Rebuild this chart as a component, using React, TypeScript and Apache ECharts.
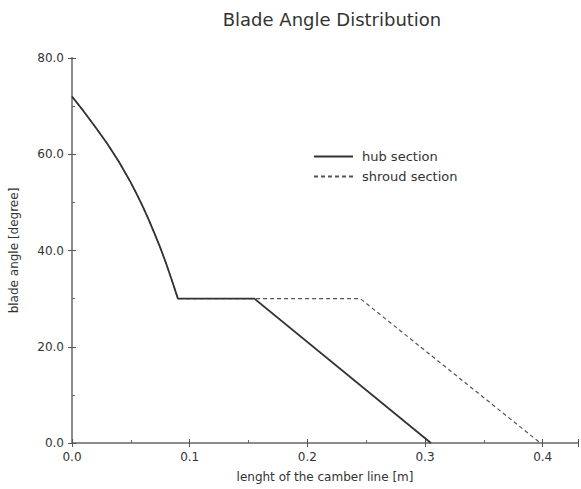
import React, { useEffect, useRef } from "react";
import * as echarts from "echarts";

const title = "Blade Angle Distribution";
const xName = "lenght of the camber line [m]";
const yName = "blade angle [degree]";
const seriesNames = ["hub section", "shroud section"];

const hubX = [0, 0.01, 0.02, 0.03, 0.04, 0.05, 0.055, 0.06, 0.065, 0.07, 0.075, 0.08, 0.085, 0.09, 0.155, 0.305];
const hubY = [72, 68.9, 65.6, 62.2, 58.4, 54.1, 51.7, 49.2, 46.5, 43.6, 40.6, 37.3, 33.7, 30, 30, 0];

const shroudX = [0, 0.01, 0.02, 0.03, 0.04, 0.05, 0.055, 0.06, 0.065, 0.07, 0.075, 0.08, 0.085, 0.09, 0.245, 0.398];
const shroudY = [72, 68.9, 65.6, 62.2, 58.4, 54.1, 51.7, 49.2, 46.5, 43.6, 40.6, 37.3, 33.7, 30, 30, 0];

const FONT = "DejaVu Sans";

export default function App() {
  const ref = useRef<HTMLDivElement>(null);
  useEffect(() => {
    if (!ref.current) return;
    const chart = echarts.init(ref.current, null, { renderer: "svg" });
    const axisLine = { show: true, lineStyle: { color: "#8c8c8c", width: 2 } };
    const tick = { show: true, inside: true, length: 4, lineStyle: { color: "#555", width: 1 } };
    const minor = { show: true, splitNumber: 2, length: 3, lineStyle: { color: "#666", width: 1 } };
    const fmtX = (v: number) => {
      const r = Math.round(v * 10);
      return Math.abs(v * 10 - r) < 1e-6 ? v.toFixed(1) : "";
    };
    chart.setOption({
      animation: false,
      backgroundColor: "#fff",
      title: {
        text: title,
        left: 327,
        top: 5,
        textAlign: "center",
        textStyle: { fontFamily: FONT, fontSize: 18, fontWeight: "normal", color: "#333" },
      },
      legend: {
        orient: "vertical",
        left: 313,
        top: 150,
        padding: 0,
        itemWidth: 39,
        itemHeight: 14,
        itemGap: 7,
        itemStyle: { opacity: 0 },
        textStyle: { fontFamily: FONT, fontSize: 13, color: "#333", padding: [0, 0, 0, 4] },
        data: seriesNames,
      },
      grid: { left: 72, top: 58, bottom: 46, right: -2 },
      xAxis: [
        {
          type: "value",
          min: 0,
          max: 0.43,
          interval: 0.1,
          name: xName,
          nameLocation: "middle",
          nameGap: 28,
          nameTextStyle: { fontFamily: FONT, fontSize: 12, color: "#333" },
          axisLine,
          axisTick: tick,
          minorTick: minor,
          splitLine: { show: false },
          axisLabel: { fontFamily: FONT, fontSize: 12, color: "#333", margin: 8, formatter: fmtX },
        },
        {
          type: "value",
          position: "top",
          min: 0,
          max: 0.43,
          interval: 0.1,
          axisLine,
          axisTick: tick,
          splitLine: { show: false },
          axisLabel: { show: false },
        },
      ],
      yAxis: [
        {
          type: "value",
          min: 0,
          max: 80,
          interval: 20,
          name: yName,
          nameLocation: "middle",
          nameGap: 52,
          nameTextStyle: { fontFamily: FONT, fontSize: 12, color: "#333" },
          axisLine,
          axisTick: tick,
          minorTick: minor,
          splitLine: { show: false },
          axisLabel: { fontFamily: FONT, fontSize: 12, color: "#333", margin: 8, formatter: (v: number) => v.toFixed(1) },
        },
        {
          type: "value",
          position: "right",
          min: 0,
          max: 80,
          interval: 20,
          axisLine,
          axisTick: tick,
          splitLine: { show: false },
          axisLabel: { show: false },
        },
      ],
      series: [
        {
          name: seriesNames[1],
          type: "line",
          data: shroudX.map((x, i) => [x, shroudY[i]]),
          symbol: "none",
          z: 2,
          lineStyle: { color: "#555", width: 1.2, type: [4, 3] },
          itemStyle: { color: "#555" },
        },
        {
          name: seriesNames[0],
          type: "line",
          data: hubX.map((x, i) => [x, hubY[i]]),
          symbol: "none",
          z: 3,
          lineStyle: { color: "#333", width: 1.8 },
          itemStyle: { color: "#333" },
        },
      ],
    });
    return () => chart.dispose();
  }, []);
  return <div ref={ref} style={{ position: "absolute", left: 0, top: 0, width: 581, height: 489 }} />;
}
